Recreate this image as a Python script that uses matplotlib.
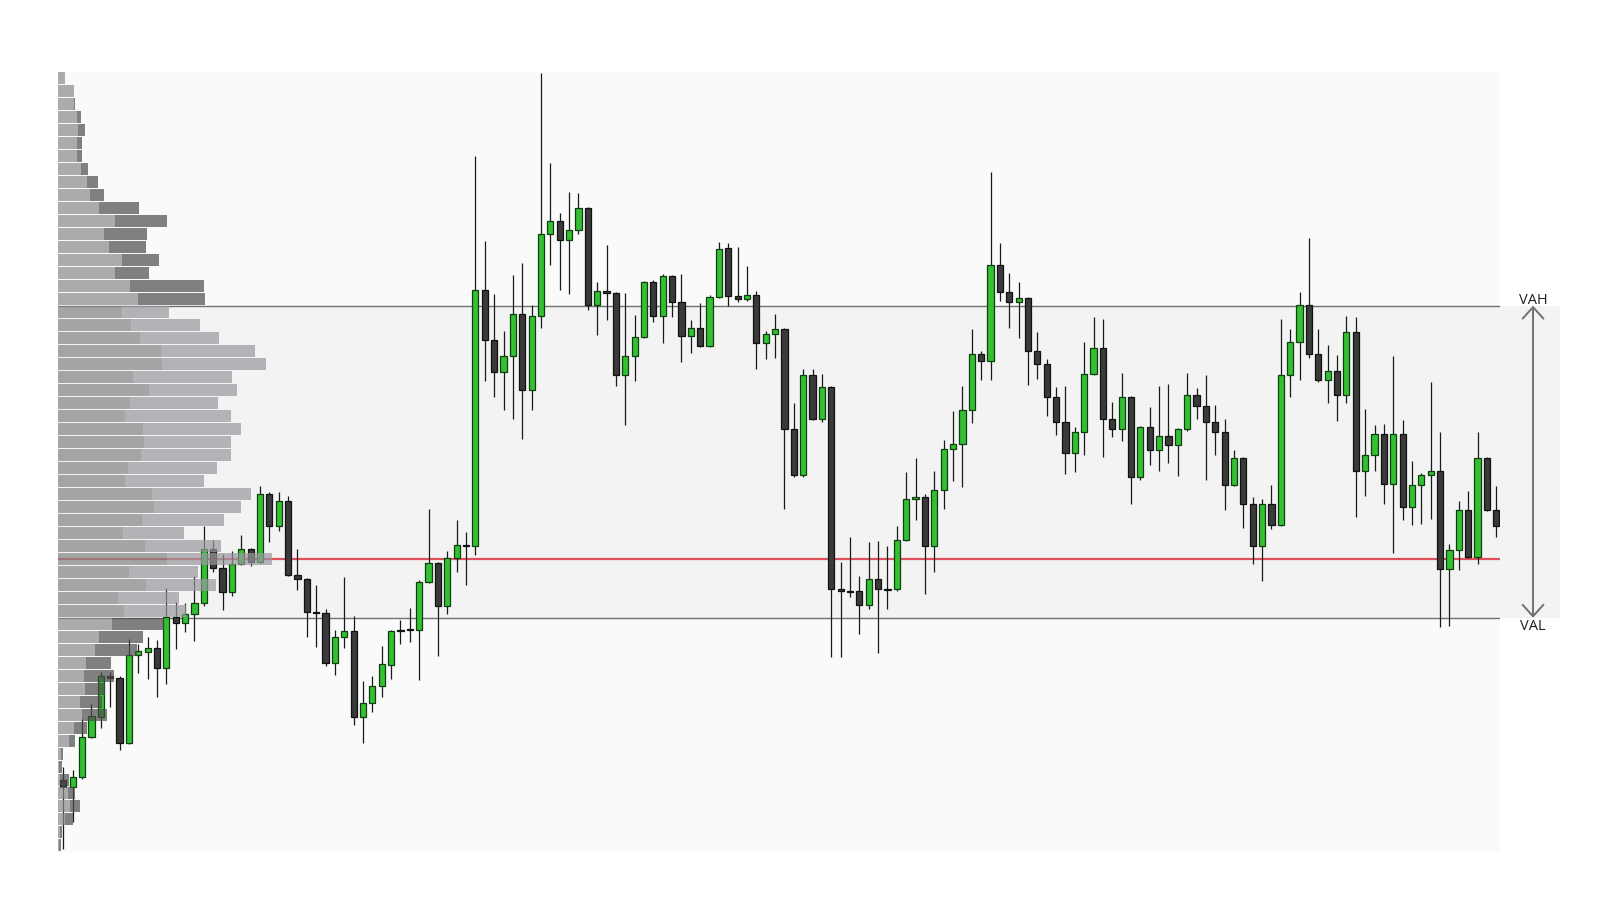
import numpy as np
import matplotlib.pyplot as plt

# Velas (OHLC), una por barra
opens = [101.38, 101.24, 101.43, 102.20, 102.60, 103.37, 103.35, 102.10, 103.78, 103.85,
         103.91, 103.53, 104.51, 104.39, 104.57, 104.78, 105.83, 105.45, 105.00, 105.53,
         105.82, 105.58, 106.87, 106.27, 106.74, 105.33, 105.25, 104.61, 104.60, 103.62,
         104.13, 104.24, 102.60, 102.86, 103.18, 103.60, 104.25, 104.28, 104.27, 105.18,
         105.55, 104.73, 105.64, 105.90, 105.87, 110.80, 109.84, 109.22, 109.54, 110.35,
         108.87, 110.31, 111.88, 112.12, 111.77, 111.95, 112.38, 110.52, 110.79, 110.74,
         109.17, 109.53, 109.89, 110.95, 110.30, 111.07, 110.58, 109.91, 110.08, 109.72,
         110.66, 111.60, 110.68, 110.62, 110.70, 109.78, 109.95, 110.05, 108.12, 107.24,
         109.16, 108.33, 108.93, 105.05, 105.01, 105.01, 104.74, 105.24, 105.06, 105.06,
         105.99, 106.78, 106.83, 105.88, 106.96, 107.74, 107.85, 108.49, 109.58, 109.43,
         111.28, 110.76, 110.58, 110.64, 109.63, 109.37, 108.74, 108.26, 107.66, 108.08,
         109.18, 109.68, 108.32, 108.12, 108.74, 107.20, 108.16, 107.72, 107.99, 107.82,
         108.12, 108.78, 108.57, 108.26, 108.07, 107.05, 107.58, 106.68, 105.87, 106.68,
         106.28, 109.16, 109.80, 110.51, 109.57, 109.07, 109.24, 108.78, 109.99, 107.33,
         107.62, 108.03, 107.08, 108.03, 106.62, 107.05, 107.24, 107.32, 105.43, 105.80,
         106.58, 105.66, 107.57, 106.58]
highs = [101.62, 101.57, 102.55, 102.84, 103.45, 103.46, 103.37, 104.09, 103.99, 104.12,
         104.07, 105.07, 104.80, 104.78, 105.30, 106.26, 105.99, 105.72, 105.78, 106.10,
         105.84, 107.03, 106.91, 106.92, 106.85, 105.83, 105.27, 105.12, 104.67, 104.27,
         105.28, 104.54, 103.28, 103.38, 103.95, 104.27, 104.45, 104.68, 105.23, 106.60,
         105.57, 105.78, 106.38, 106.15, 113.38, 111.75, 110.72, 110.01, 111.10, 111.32,
         110.51, 114.98, 113.25, 112.28, 112.68, 112.66, 112.40, 110.96, 111.67, 110.76,
         110.74, 110.33, 110.97, 110.99, 111.11, 111.09, 111.11, 110.23, 110.55, 110.70,
         111.72, 111.70, 111.62, 111.26, 110.78, 110.01, 110.35, 110.07, 108.62, 109.28,
         109.28, 109.18, 108.95, 105.57, 106.05, 105.30, 105.95, 105.97, 105.87, 106.26,
         107.30, 107.57, 106.87, 107.33, 107.91, 108.47, 108.95, 110.05, 109.62, 113.08,
         111.70, 111.12, 110.95, 110.66, 109.99, 109.47, 108.93, 108.95, 108.16, 109.80,
         110.28, 110.24, 108.64, 109.20, 108.76, 108.18, 108.55, 108.95, 108.99, 108.14,
         109.20, 108.91, 109.16, 108.60, 108.33, 107.72, 107.60, 106.83, 106.78, 107.05,
         110.24, 110.05, 110.76, 111.80, 110.05, 109.74, 109.55, 110.30, 110.28, 108.51,
         108.20, 108.22, 109.53, 108.30, 107.51, 107.28, 109.03, 108.08, 105.91, 106.74,
         106.93, 108.07, 107.59, 107.03]
lows = [100.05, 100.58, 101.40, 102.18, 102.37, 102.78, 101.96, 102.08, 103.43, 103.33,
        102.97, 103.22, 103.89, 104.23, 104.06, 104.72, 105.37, 104.64, 104.91, 105.51,
        105.49, 105.56, 105.96, 106.17, 105.31, 105.03, 104.13, 103.94, 103.57, 103.40,
        103.91, 102.44, 102.09, 102.69, 102.97, 103.33, 104.00, 104.04, 103.31, 105.16,
        103.76, 104.58, 105.38, 105.12, 105.70, 109.06, 108.74, 108.49, 108.33, 107.94,
        108.50, 110.07, 111.29, 110.80, 110.72, 111.88, 110.42, 109.93, 110.23, 108.96,
        108.21, 109.06, 109.87, 110.19, 109.79, 110.29, 109.42, 109.60, 109.70, 109.70,
        110.64, 110.50, 110.58, 110.60, 109.29, 109.47, 109.49, 106.60, 107.20, 107.20,
        108.30, 108.26, 103.75, 103.75, 104.90, 104.18, 104.66, 103.83, 104.66, 105.01,
        105.97, 106.37, 104.95, 105.37, 106.60, 107.12, 107.02, 108.24, 109.07, 109.07,
        110.60, 110.08, 109.88, 108.98, 109.10, 108.37, 108.02, 107.26, 107.30, 107.62,
        109.16, 107.60, 107.97, 107.89, 106.68, 107.14, 107.43, 107.32, 107.47, 107.22,
        108.10, 108.33, 107.14, 107.62, 106.57, 107.03, 106.22, 105.53, 105.20, 106.20,
        106.26, 108.74, 109.08, 109.49, 109.03, 108.62, 108.28, 108.62, 106.43, 106.85,
        107.33, 106.68, 105.74, 106.37, 106.28, 106.30, 106.39, 104.32, 104.35, 105.41,
        105.64, 105.53, 106.56, 106.05]
closes = [101.24, 101.43, 102.20, 102.60, 103.37, 103.35, 102.10, 103.78, 103.85, 103.91,
          103.53, 104.51, 104.39, 104.57, 104.78, 105.83, 105.45, 105.00, 105.53, 105.82,
          105.58, 106.87, 106.27, 106.74, 105.33, 105.25, 104.61, 104.60, 103.62, 104.13,
          104.24, 102.60, 102.86, 103.18, 103.60, 104.25, 104.25, 104.26, 105.18, 105.55,
          104.73, 105.64, 105.89, 105.87, 110.80, 109.84, 109.22, 109.54, 110.35, 108.87,
          110.31, 111.88, 112.12, 111.77, 111.95, 112.38, 110.52, 110.79, 110.74, 109.17,
          109.53, 109.89, 110.95, 110.30, 111.07, 110.58, 109.91, 110.08, 109.72, 110.66,
          111.60, 110.68, 110.62, 110.70, 109.78, 109.95, 110.05, 108.12, 107.24, 109.16,
          108.33, 108.93, 105.05, 105.01, 105.00, 104.74, 105.24, 105.05, 105.03, 105.99,
          106.78, 106.83, 105.88, 106.96, 107.74, 107.85, 108.49, 109.58, 109.43, 111.28,
          110.76, 110.58, 110.64, 109.63, 109.37, 108.74, 108.26, 107.66, 108.08, 109.18,
          109.68, 108.32, 108.12, 108.74, 107.20, 108.16, 107.72, 107.99, 107.82, 108.12,
          108.78, 108.57, 108.26, 108.07, 107.05, 107.58, 106.68, 105.87, 106.68, 106.28,
          109.16, 109.80, 110.51, 109.57, 109.07, 109.24, 108.78, 109.99, 107.33, 107.62,
          108.03, 107.08, 108.03, 106.62, 107.05, 107.24, 107.32, 105.43, 105.80, 106.58,
          105.66, 107.57, 106.58, 106.26]

# Perfil de volumen (de arriba hacia abajo, 60 niveles de 0.25)
vol_venta = [73, 163, 163, 190, 203, 190, 190, 233, 293, 323,
             413, 573, 463, 513, 643, 573, 723, 803, 643, 733,
             823, 1033, 1043, 753, 913, 723, 673, 853, 863, 833,
             703, 673, 943, 963, 843, 653, 873, 1093, 713, 883,
             603, 663, 543, 413, 373, 283, 263, 273, 223, 243,
             163, 113, 33, 13, 23, 103, 123, 73, 23, 13]
vol_compra = [0, 0, 10, 43, 70, 53, 53, 70, 110, 140,
              400, 520, 430, 370, 370, 340, 740, 670, 470, 690,
              790, 940, 1040, 990, 880, 880, 1060, 980, 870, 900,
              890, 790, 990, 870, 820, 610, 760, 1050, 690, 700,
              610, 620, 520, 440, 420, 250, 300, 200, 220, 250,
              130, 60, 20, 30, 90, 70, 100, 80, 20, 20]

VAH = 110.5
VAL = 104.5
POC = 105.625

precio_min, precio_max, paso = 100.0, 115.0, 0.25
niveles = np.arange(precio_max - paso / 2, precio_min, -paso)

x = np.arange(len(opens))
opens, highs, lows, closes = map(np.array, (opens, highs, lows, closes))
alcista = closes > opens

fig = plt.figure(figsize=(16, 9), dpi=100, facecolor='white')
pos = [57.7 / 1600, 1 - 851.7 / 900, 1442.3 / 1600, 780 / 900]
ax = fig.add_axes(pos)
ax.set_facecolor('#fafafa')
ax.set_xlim(-0.6, 153.4)
ax.set_ylim(precio_min, precio_max)
for s in ax.spines.values():
    s.set_visible(False)
ax.set_xticks([])
ax.set_yticks([])

# Zona de valor
ax.axhspan(VAL, VAH, xmin=0, xmax=1.0416, color='#f3f3f3', zorder=0, clip_on=False, lw=0)
ax.axhline(VAH, color='#707070', lw=1.0, zorder=1)
ax.axhline(VAL, color='#707070', lw=1.0, zorder=1)
ax.axhline(POC, color='#e0505a', lw=1.6, zorder=1)

# Velas
ax.vlines(x, lows, highs, color='#1a1a1a', lw=0.9, zorder=2)
cuerpo = np.maximum(np.abs(closes - opens), 0.015)
base = np.minimum(opens, closes)
ax.bar(x[alcista], cuerpo[alcista], bottom=base[alcista], width=0.66,
       color='#33c133', edgecolor='#0f3f0f', lw=0.9, zorder=3)
ax.bar(x[~alcista], cuerpo[~alcista], bottom=base[~alcista], width=0.66,
       color='#3a3a3a', edgecolor='#111111', lw=0.9, zorder=3)

# Flecha VAH / VAL
tr = ax.get_yaxis_transform()
ax.annotate('', xy=(1.0229, VAL), xytext=(1.0229, VAH), xycoords=tr, textcoords=tr,
            arrowprops=dict(arrowstyle='<->,head_length=0.55,head_width=0.5',
                            color='#707070', lw=1.4, mutation_scale=15,
                            shrinkA=0, shrinkB=0),
            annotation_clip=False)
ax.text(1.0229, VAH + 0.035, 'VAH', transform=tr, ha='center', va='baseline',
        fontsize=10.5, color='#222222', family='Open Sans')
ax.text(1.0229, VAL - 0.03, 'VAL', transform=tr, ha='center', va='top',
        fontsize=10.5, color='#222222', family='Open Sans')

# Perfil de volumen encima, semitransparente
ax2 = fig.add_axes(pos, sharey=ax, zorder=ax.get_zorder() + 1)
ax2.patch.set_visible(False)
ax2.axis('off')
ax2.set_xlim(0, 14423)
dentro = (niveles > VAL) & (niveles < VAH)
col_venta = [(0.52, 0.52, 0.52, 0.7) if d else (0.54, 0.54, 0.54, 0.7) for d in dentro]
col_compra = [(0.60, 0.60, 0.62, 0.7) if d else (0.30, 0.30, 0.30, 0.7) for d in dentro]
ax2.barh(niveles, vol_venta, height=paso * 12 / 13, color=col_venta, lw=0)
ax2.barh(niveles, vol_compra, left=vol_venta, height=paso * 12 / 13, color=col_compra, lw=0)
ax2.set_ylim(precio_min, precio_max)

plt.savefig('out.png', dpi=100, facecolor='white')
